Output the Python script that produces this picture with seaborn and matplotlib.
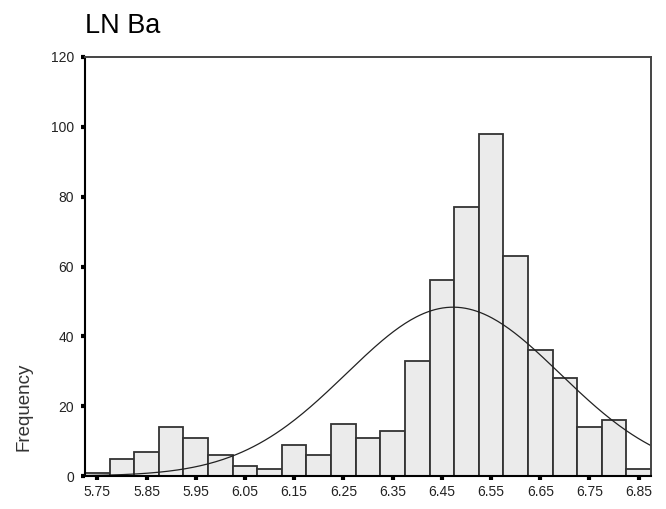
import numpy as np
import pandas as pd
import matplotlib
matplotlib.use("Agg")
import matplotlib.pyplot as plt
import seaborn as sns

# Data
bin_centers = [5.75, 5.80, 5.85, 5.90, 5.95, 6.00, 6.05, 6.10, 6.15, 6.20, 6.25, 6.30,
               6.35, 6.40, 6.45, 6.50, 6.55, 6.60, 6.65, 6.70, 6.75, 6.80, 6.85]
counts = [1, 5, 7, 14, 11, 6, 3, 2, 9, 6, 15, 11,
          13, 33, 56, 77, 98, 63, 36, 28, 14, 16, 2]
x_ticks = [5.75, 5.85, 5.95, 6.05, 6.15, 6.25, 6.35, 6.45, 6.55, 6.65, 6.75, 6.85]
y_ticks = [0, 20, 40, 60, 80, 100, 120]
fit_mean = 6.473
fit_sd = 0.217
bin_width = 0.05
title = "LN Ba"
ylabel = "Frequency"

sns.set_style("white")
plt.rcParams['font.family'] = ['Liberation Sans', 'DejaVu Sans']

fig = plt.figure(figsize=(6.66, 5.09), dpi=100)
ax = fig.add_axes([85/666, 1-476/509, (651-85)/666, (476-57)/509])

df = pd.DataFrame({"value": bin_centers, "count": counts})
lo = bin_centers[0] - bin_width/2
hi = bin_centers[-1] + bin_width/2
sns.histplot(data=df, x="value", weights="count", binwidth=bin_width,
             binrange=(lo, hi), color="#ebebeb", edgecolor="#333333",
             linewidth=1.3, alpha=1, ax=ax)

n_total = sum(counts)
xs = np.linspace(lo, hi, 300)
ys = n_total * bin_width * np.exp(-0.5*((xs-fit_mean)/fit_sd)**2) / (fit_sd*np.sqrt(2*np.pi))
sns.lineplot(x=xs, y=ys, color="#222222", linewidth=0.9, ax=ax)

ax.set_xlim(lo, hi)
ax.set_ylim(0, 120)
ax.set_xticks(x_ticks)
ax.set_xticklabels([f"{t:.2f}" for t in x_ticks])
ax.set_yticks(y_ticks)
ax.set_yticklabels([str(t) for t in y_ticks])
ax.set_xlabel("")
ax.set_ylabel(ylabel, fontsize=13.5, color="#333333")
ax.yaxis.set_label_coords(-0.092, 0.165)

ax.tick_params(axis='both', which='major', direction='out', length=2.8, width=3,
               color='black', labelsize=10, labelcolor='#222222',
               bottom=True, left=True)
ax.tick_params(axis='y', pad=5)
ax.tick_params(axis='x', pad=4)

for side in ['left', 'bottom']:
    ax.spines[side].set_color('black')
    ax.spines[side].set_linewidth(1.5)
for side in ['top', 'right']:
    ax.spines[side].set_color('#444444')
    ax.spines[side].set_linewidth(1.4)

fig.text(85/666, 1-33/509, title, fontsize=19.5, va='baseline', ha='left', color='black')

fig.savefig("out.png", dpi=100)
